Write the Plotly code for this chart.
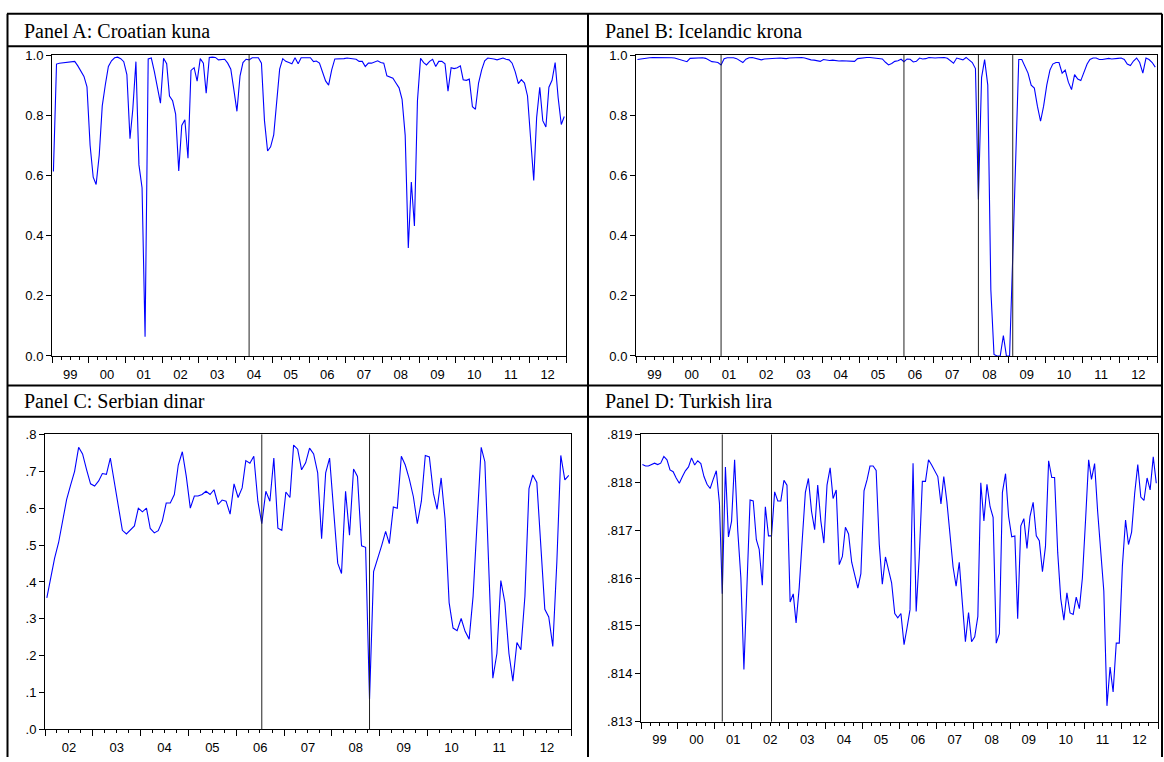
import pandas as pd
import plotly.graph_objects as go

W, H = 1164, 762

# ---------------- data ----------------
start_abd = "1999-01-01"
start_c = "2002-01-01"

croatia = [0.613,0.970,0.973,0.974,0.977,0.976,0.977,0.979,0.964,0.946,
           0.929,0.894,0.700,0.594,0.570,0.668,0.831,0.902,0.962,0.981,
           0.991,0.993,0.988,0.978,0.935,0.722,0.820,0.978,0.635,0.559,
           0.064,0.987,0.990,0.946,0.886,0.840,0.989,0.971,0.864,0.848,
           0.804,0.615,0.766,0.785,0.657,0.949,0.958,0.913,0.988,0.973,
           0.873,0.992,0.993,0.992,0.984,0.986,0.986,0.973,0.953,0.886,
           0.813,0.931,0.975,0.986,0.984,0.991,0.992,0.991,0.973,0.782,
           0.681,0.695,0.735,0.853,0.953,0.988,0.979,0.975,0.971,0.991,
           0.971,0.991,0.991,0.990,0.991,0.978,0.980,0.973,0.940,0.914,
           0.900,0.951,0.987,0.987,0.986,0.988,0.990,0.989,0.989,0.986,
           0.979,0.979,0.962,0.973,0.973,0.978,0.981,0.975,0.973,0.931,
           0.927,0.923,0.907,0.891,0.853,0.733,0.359,0.578,0.432,0.848,
           0.989,0.975,0.967,0.979,0.986,0.962,0.979,0.979,0.971,0.880,
           0.958,0.955,0.958,0.964,0.918,0.916,0.920,0.828,0.820,0.907,
           0.951,0.981,0.990,0.989,0.987,0.984,0.988,0.990,0.986,0.984,
           0.973,0.944,0.905,0.918,0.907,0.864,0.722,0.583,0.793,0.893,
           0.782,0.761,0.893,0.916,0.975,0.858,0.769,0.796]

iceland = [0.985,0.987,0.989,0.990,0.991,0.992,0.992,0.993,0.992,0.992,
           0.992,0.991,0.990,0.987,0.983,0.979,0.978,0.989,0.990,0.989,
           0.990,0.991,0.989,0.984,0.978,0.977,0.975,0.967,0.988,0.991,
           0.992,0.991,0.988,0.981,0.975,0.986,0.991,0.992,0.989,0.986,
           0.984,0.987,0.988,0.989,0.988,0.990,0.990,0.989,0.988,0.990,
           0.991,0.990,0.991,0.992,0.990,0.986,0.984,0.983,0.982,0.979,
           0.985,0.983,0.982,0.983,0.981,0.980,0.981,0.980,0.979,0.980,
           0.979,0.988,0.990,0.991,0.992,0.992,0.991,0.990,0.990,0.987,
           0.976,0.967,0.972,0.979,0.981,0.986,0.978,0.987,0.986,0.977,
           0.979,0.990,0.987,0.988,0.992,0.990,0.990,0.991,0.991,0.992,
           0.989,0.982,0.973,0.990,0.987,0.984,0.992,0.985,0.975,0.955,
           0.520,0.925,0.985,0.900,0.220,0.005,0.000,0.000,0.068,0.000,
           0.000,0.330,0.660,0.985,0.985,0.960,0.940,0.900,0.890,0.830,
           0.780,0.830,0.900,0.950,0.970,0.975,0.975,0.940,0.950,0.910,
           0.885,0.935,0.920,0.915,0.940,0.970,0.985,0.990,0.990,0.985,
           0.985,0.987,0.989,0.987,0.989,0.989,0.990,0.985,0.970,0.965,
           0.980,0.990,0.975,0.940,0.990,0.985,0.975,0.960]

serbia = [0.357,0.412,0.464,0.507,0.567,0.623,0.662,0.700,0.765,0.747,
          0.704,0.666,0.660,0.674,0.694,0.692,0.736,0.670,0.606,0.540,
          0.530,0.541,0.552,0.600,0.590,0.600,0.545,0.533,0.539,0.565,
          0.614,0.614,0.637,0.717,0.753,0.687,0.600,0.633,0.633,0.637,
          0.646,0.637,0.650,0.610,0.622,0.619,0.584,0.666,0.629,0.655,
          0.729,0.722,0.741,0.619,0.558,0.646,0.619,0.736,0.546,0.540,
          0.644,0.629,0.771,0.760,0.704,0.723,0.763,0.747,0.696,0.517,
          0.696,0.736,0.593,0.451,0.423,0.646,0.527,0.706,0.686,0.498,
          0.494,0.082,0.428,0.460,0.498,0.537,0.504,0.603,0.600,0.741,
          0.717,0.679,0.631,0.558,0.619,0.743,0.739,0.640,0.597,0.682,
          0.571,0.344,0.275,0.268,0.301,0.266,0.245,0.361,0.558,0.765,
          0.726,0.421,0.139,0.206,0.404,0.344,0.206,0.131,0.236,0.216,
          0.361,0.653,0.690,0.670,0.490,0.326,0.305,0.225,0.455,0.743,
          0.677,0.689]

turkey = [.81837,.81834,.81834,.81837,.81840,.81837,.81840,.81854,.81847,.81826,
          .81822,.81809,.81798,.81812,.81824,.81832,.81851,.81836,.81845,.81839,
          .81812,.81796,.81787,.81806,.81824,.81756,.81567,.81832,.81686,.81719,
          .81847,.81699,.81600,.81409,.81593,.81763,.81761,.81680,.81660,.81585,
          .81749,.81688,.81688,.81780,.81761,.81761,.81804,.81794,.81550,.81567,
          .81506,.81580,.81680,.81779,.81808,.81739,.81701,.81794,.81719,.81673,
          .81794,.81830,.81766,.81784,.81628,.81645,.81706,.81692,.81633,.81607,
          .81579,.81609,.81782,.81806,.81834,.81834,.81825,.81670,.81587,.81644,
          .81617,.81590,.81526,.81517,.81526,.81461,.81494,.81534,.81840,.81530,
          .81643,.81802,.81802,.81847,.81836,.81824,.81812,.81755,.81812,.81759,
          .81693,.81623,.81583,.81633,.81547,.81467,.81528,.81467,.81477,.81520,
          .81799,.81719,.81796,.81749,.81727,.81464,.81484,.81779,.81818,.81729,
          .81686,.81688,.81515,.81709,.81724,.81662,.81729,.81758,.81688,.81678,
          .81613,.81666,.81845,.81810,.81810,.81653,.81557,.81512,.81569,.81527,
          .81524,.81560,.81536,.81600,.81719,.81847,.81806,.81839,.81739,.81660,
          .81573,.81333,.81414,.81362,.81464,.81464,.81626,.81721,.81670,.81696,
          .81776,.81837,.81769,.81762,.81809,.81784,.81853,.81798]

breaks_a = ["2004-05-15"]
breaks_b = ["2001-04-15", "2006-03-15", "2008-03-15", "2009-02-15"]
breaks_c = ["2006-07-15", "2008-10-15"]
breaks_d = ["2001-03-15", "2002-07-15"]

titles = ["Panel A: Croatian kuna", "Panel B: Icelandic krona",
          "Panel C: Serbian dinar", "Panel D: Turkish lira"]

ticks_ab = [0.0, 0.2, 0.4, 0.6, 0.8, 1.0]
ticks_c = [0.0, 0.1, 0.2, 0.3, 0.4, 0.5, 0.6, 0.7, 0.8]
ticks_d = [0.813, 0.814, 0.815, 0.816, 0.817, 0.818, 0.819]


def months(start, n):
    return pd.date_range(start, periods=n, freq="MS") + pd.Timedelta(days=14)


# ---------------- layout geometry (pixels) ----------------
def dx(x0, x1):
    return [x0 / W, x1 / W]


def dy(top, bottom):
    return [1 - bottom / H, 1 - top / H]


panels = [
    dict(vals=croatia, start=start_abd, brk=breaks_a, xr=["1999-01-01", "2013-01-01"],
         yr=[0, 1], tv=ticks_ab, tt=[f"{v:.1f}" for v in ticks_ab],
         xd=dx(52, 566), yd=dy(49, 356)),
    dict(vals=iceland, start=start_abd, brk=breaks_b, xr=["1999-01-01", "2013-01-01"],
         yr=[0, 1], tv=ticks_ab, tt=[f"{v:.1f}" for v in ticks_ab],
         xd=dx(636, 1157), yd=dy(49, 356)),
    dict(vals=serbia, start=start_c, brk=breaks_c, xr=["2002-01-01", "2013-01-01"],
         yr=[0, 0.8], tv=ticks_c, tt=[f"{v:.1f}".lstrip("0") for v in ticks_c],
         xd=dx(45, 571), yd=dy(436, 737)),
    dict(vals=turkey, start=start_abd, brk=breaks_d, xr=["1999-01-01", "2013-01-01"],
         yr=[0.813, 0.819], tv=ticks_d, tt=[f"{v:.3f}".lstrip("0") for v in ticks_d],
         xd=dx(641, 1158), yd=dy(436, 729)),
]

fig = go.Figure()
shapes = []
tick_font = dict(family="Liberation Sans, Arial, sans-serif", size=13, color="black")

for i, p in enumerate(panels):
    k = "" if i == 0 else str(i + 1)
    x = months(p["start"], len(p["vals"]))
    fig.add_trace(go.Scatter(x=x, y=p["vals"], mode="lines",
                             line=dict(color="#0000ff", width=1.1),
                             xaxis="x" + k, yaxis="y" + k, showlegend=False,
                             hoverinfo="skip"))
    fig.layout["xaxis" + k] = dict(
        domain=p["xd"], anchor="y" + k, type="date", range=p["xr"],
        tick0="1999-01-01", dtick="M12", tickformat="%y", ticklabelmode="period",
        ticks="outside", ticklen=6, tickwidth=1, tickcolor="black",
        minor=dict(dtick="M3", ticks="outside", ticklen=3, tickwidth=1, tickcolor="black", showgrid=False),
        showline=True, linecolor="black", linewidth=1, mirror=True,
        showgrid=False, zeroline=False, tickfont=tick_font, fixedrange=True)
    fig.layout["yaxis" + k] = dict(
        domain=p["yd"], anchor="x" + k, range=p["yr"],
        tickvals=p["tv"], ticktext=p["tt"],
        ticks="outside", ticklen=5, tickwidth=1, tickcolor="black",
        showline=True, linecolor="black", linewidth=1, mirror=True,
        showgrid=False, zeroline=False, tickfont=tick_font, fixedrange=True)
    for b in p["brk"]:
        shapes.append(dict(type="line", xref="x" + k, yref="y" + k + " domain",
                           x0=b, x1=b, y0=0, y1=1,
                           line=dict(color="#222222", width=1)))

# table grid
def hline(y, x0=7, x1=1162):
    return dict(type="line", xref="paper", yref="paper", x0=x0 / W, x1=x1 / W,
                y0=1 - y / H, y1=1 - y / H, line=dict(color="black", width=2))


def vline(x, y0=7, y1=765):
    return dict(type="line", xref="paper", yref="paper", x0=x / W, x1=x / W,
                y0=1 - y0 / H, y1=1 - y1 / H, line=dict(color="black", width=2))


for y in [7, 40, 386, 418]:
    shapes.append(hline(y))
for xx in [7.5, 588, 1162]:
    shapes.append(vline(xx))

annotations = []
title_pos = [(22, 24), (603, 24), (22, 402), (603, 402)]
for t, (tx, ty) in zip(titles, title_pos):
    annotations.append(dict(text=t, x=tx / W, y=1 - ty / H, xref="paper", yref="paper",
                            xanchor="left", yanchor="middle", showarrow=False,
                            font=dict(family="Liberation Serif, Times New Roman, serif",
                                      size=20, color="black")))

fig.update_layout(width=W, height=H, margin=dict(l=0, r=0, t=0, b=0),
                  paper_bgcolor="white", plot_bgcolor="white",
                  shapes=shapes, annotations=annotations, showlegend=False)

fig.write_html("out.html")
